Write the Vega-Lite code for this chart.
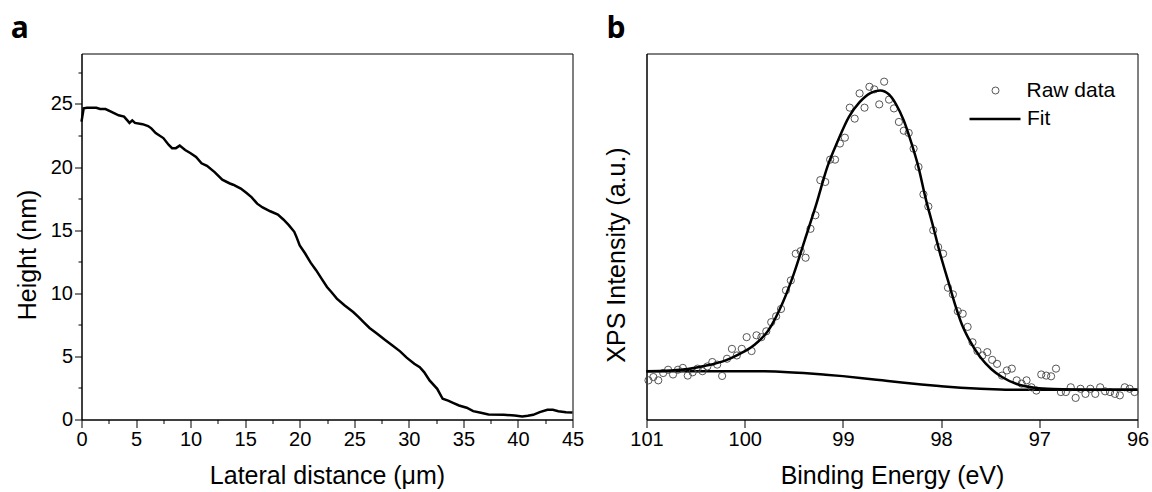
{
  "$schema": "https://vega.github.io/schema/vega-lite/v6.json",
  "background": "white",
  "padding": {"left": 9.5, "top": 12.5, "right": 0, "bottom": 0},
  "spacing": 19,
  "datasets": {
    "profile": [
      {"x": 0, "h": 23.6}, {"x": 0.2, "h": 24.66}, {"x": 0.5, "h": 24.7}, {"x": 1.36, "h": 24.7}, {"x": 1.7, "h": 24.6},
      {"x": 2.2, "h": 24.6}, {"x": 2.7, "h": 24.4}, {"x": 3.4, "h": 24.1}, {"x": 3.9, "h": 24.0}, {"x": 4.2, "h": 23.7},
      {"x": 4.4, "h": 23.5}, {"x": 4.65, "h": 23.7}, {"x": 4.9, "h": 23.5}, {"x": 5.6, "h": 23.4}, {"x": 6.1, "h": 23.25},
      {"x": 6.4, "h": 23.07}, {"x": 6.8, "h": 22.7}, {"x": 7.5, "h": 22.3}, {"x": 8.0, "h": 21.75}, {"x": 8.3, "h": 21.5},
      {"x": 8.65, "h": 21.5}, {"x": 9.0, "h": 21.7}, {"x": 9.5, "h": 21.35}, {"x": 10.0, "h": 21.1}, {"x": 10.5, "h": 20.8},
      {"x": 11.0, "h": 20.3}, {"x": 11.5, "h": 20.1}, {"x": 12.2, "h": 19.6}, {"x": 12.9, "h": 19.0}, {"x": 13.6, "h": 18.7},
      {"x": 13.9, "h": 18.6}, {"x": 14.6, "h": 18.3}, {"x": 15.1, "h": 17.96}, {"x": 15.6, "h": 17.6}, {"x": 16.1, "h": 17.1},
      {"x": 16.6, "h": 16.8}, {"x": 17.3, "h": 16.5}, {"x": 18.0, "h": 16.24}, {"x": 18.5, "h": 15.85}, {"x": 19.0, "h": 15.4},
      {"x": 19.5, "h": 14.87}, {"x": 19.7, "h": 14.47}, {"x": 20.0, "h": 13.8}, {"x": 20.5, "h": 13.15}, {"x": 21.0, "h": 12.43},
      {"x": 21.5, "h": 11.83}, {"x": 22.0, "h": 11.16}, {"x": 22.5, "h": 10.5}, {"x": 22.9, "h": 10.1}, {"x": 23.4, "h": 9.58},
      {"x": 24.1, "h": 9.05}, {"x": 24.9, "h": 8.52}, {"x": 25.4, "h": 8.12}, {"x": 25.9, "h": 7.67}, {"x": 26.4, "h": 7.25},
      {"x": 27.1, "h": 6.8}, {"x": 27.8, "h": 6.32}, {"x": 28.5, "h": 5.87}, {"x": 29.2, "h": 5.4}, {"x": 29.8, "h": 4.9},
      {"x": 30.5, "h": 4.42}, {"x": 31.0, "h": 4.15}, {"x": 31.4, "h": 3.76}, {"x": 31.9, "h": 3.1}, {"x": 32.6, "h": 2.43},
      {"x": 33.1, "h": 1.64}, {"x": 33.6, "h": 1.5}, {"x": 34.1, "h": 1.3}, {"x": 34.6, "h": 1.11}, {"x": 35.3, "h": 0.93},
      {"x": 35.9, "h": 0.66}, {"x": 36.6, "h": 0.53}, {"x": 37.3, "h": 0.4}, {"x": 38.7, "h": 0.37}, {"x": 39.7, "h": 0.32},
      {"x": 40.4, "h": 0.24}, {"x": 40.9, "h": 0.29}, {"x": 41.4, "h": 0.37}, {"x": 42.0, "h": 0.58}, {"x": 42.7, "h": 0.77},
      {"x": 43.2, "h": 0.77}, {"x": 43.7, "h": 0.66}, {"x": 44.4, "h": 0.58}, {"x": 45.0, "h": 0.56}
    ],
    "raw": [
      {"E": 100.98, "I": 10.7}, {"E": 100.93, "I": 11.6}, {"E": 100.88, "I": 10.7}, {"E": 100.83, "I": 12.7}, {"E": 100.78, "I": 13.6},
      {"E": 100.73, "I": 12.3}, {"E": 100.68, "I": 13.6}, {"E": 100.63, "I": 14.1}, {"E": 100.58, "I": 12.0}, {"E": 100.53, "I": 12.9},
      {"E": 100.48, "I": 13.9}, {"E": 100.43, "I": 13.2}, {"E": 100.38, "I": 14.5}, {"E": 100.33, "I": 15.7}, {"E": 100.28, "I": 15.0},
      {"E": 100.23, "I": 11.9}, {"E": 100.18, "I": 16.6}, {"E": 100.13, "I": 19.3}, {"E": 100.08, "I": 17.5}, {"E": 100.03, "I": 19.3},
      {"E": 99.98, "I": 22.5}, {"E": 99.93, "I": 18.7}, {"E": 99.88, "I": 23.0}, {"E": 99.83, "I": 22.5}, {"E": 99.78, "I": 24.1},
      {"E": 99.73, "I": 26.6}, {"E": 99.68, "I": 28.2}, {"E": 99.63, "I": 30.2}, {"E": 99.58, "I": 35.3}, {"E": 99.53, "I": 38.0},
      {"E": 99.48, "I": 45.3}, {"E": 99.43, "I": 46.0}, {"E": 99.38, "I": 44.2}, {"E": 99.33, "I": 52.1}, {"E": 99.28, "I": 55.8},
      {"E": 99.23, "I": 65.4}, {"E": 99.18, "I": 64.9}, {"E": 99.13, "I": 71.0}, {"E": 99.08, "I": 71.0}, {"E": 99.03, "I": 75.4},
      {"E": 98.98, "I": 77.0}, {"E": 98.93, "I": 85.2}, {"E": 98.88, "I": 82.2}, {"E": 98.83, "I": 89.1}, {"E": 98.78, "I": 85.2},
      {"E": 98.73, "I": 90.9}, {"E": 98.68, "I": 90.2}, {"E": 98.63, "I": 86.1}, {"E": 98.58, "I": 92.3}, {"E": 98.53, "I": 87.4},
      {"E": 98.48, "I": 85.0}, {"E": 98.43, "I": 81.3}, {"E": 98.38, "I": 78.9}, {"E": 98.33, "I": 78.3}, {"E": 98.28, "I": 74.0},
      {"E": 98.23, "I": 69.0}, {"E": 98.18, "I": 61.5}, {"E": 98.13, "I": 58.2}, {"E": 98.08, "I": 51.7}, {"E": 98.03, "I": 47.1},
      {"E": 97.98, "I": 45.3}, {"E": 97.93, "I": 36.0}, {"E": 97.88, "I": 34.2}, {"E": 97.83, "I": 29.6}, {"E": 97.78, "I": 28.9},
      {"E": 97.73, "I": 25.3}, {"E": 97.68, "I": 21.1}, {"E": 97.63, "I": 18.7}, {"E": 97.58, "I": 17.5}, {"E": 97.53, "I": 18.4},
      {"E": 97.48, "I": 16.3}, {"E": 97.43, "I": 15.2}, {"E": 97.38, "I": 12.0}, {"E": 97.33, "I": 13.4}, {"E": 97.28, "I": 13.9},
      {"E": 97.23, "I": 10.7}, {"E": 97.18, "I": 9.8}, {"E": 97.13, "I": 10.7}, {"E": 97.08, "I": 8.8}, {"E": 97.03, "I": 7.9},
      {"E": 96.98, "I": 12.3}, {"E": 96.93, "I": 12.0}, {"E": 96.88, "I": 11.8}, {"E": 96.83, "I": 13.9}, {"E": 96.78, "I": 7.5},
      {"E": 96.73, "I": 7.5}, {"E": 96.68, "I": 8.8}, {"E": 96.63, "I": 5.9}, {"E": 96.58, "I": 8.4}, {"E": 96.53, "I": 7.0},
      {"E": 96.48, "I": 8.4}, {"E": 96.43, "I": 7.0}, {"E": 96.38, "I": 8.8}, {"E": 96.33, "I": 7.7}, {"E": 96.28, "I": 7.5},
      {"E": 96.23, "I": 7.0}, {"E": 96.18, "I": 6.6}, {"E": 96.13, "I": 8.8}, {"E": 96.08, "I": 8.4}, {"E": 96.03, "I": 7.5}
    ],
    "fit": [
      {"E": 101.0, "I": 13.2}, {"E": 100.76, "I": 13.4}, {"E": 100.58, "I": 13.8}, {"E": 100.39, "I": 14.75}, {"E": 100.2, "I": 16.1},
      {"E": 100.06, "I": 17.8}, {"E": 99.91, "I": 20.2}, {"E": 99.76, "I": 24.3}, {"E": 99.61, "I": 32.1}, {"E": 99.5, "I": 39.8},
      {"E": 99.39, "I": 48.9}, {"E": 99.27, "I": 58.9}, {"E": 99.16, "I": 68.9}, {"E": 99.05, "I": 76.2}, {"E": 98.94, "I": 82.6},
      {"E": 98.83, "I": 86.7}, {"E": 98.72, "I": 89.2}, {"E": 98.62, "I": 89.9}, {"E": 98.53, "I": 88.8}, {"E": 98.46, "I": 86.2},
      {"E": 98.38, "I": 81.7}, {"E": 98.31, "I": 76.2}, {"E": 98.23, "I": 68.9}, {"E": 98.16, "I": 60.7}, {"E": 98.08, "I": 52.6},
      {"E": 98.01, "I": 45.3}, {"E": 97.93, "I": 38.0}, {"E": 97.86, "I": 31.6}, {"E": 97.79, "I": 26.1}, {"E": 97.71, "I": 21.6},
      {"E": 97.6, "I": 17.0}, {"E": 97.49, "I": 13.8}, {"E": 97.38, "I": 11.6}, {"E": 97.23, "I": 9.7}, {"E": 97.04, "I": 8.65},
      {"E": 96.86, "I": 8.3}, {"E": 96.48, "I": 8.1}, {"E": 96.0, "I": 8.1}
    ],
    "bg": [
      {"E": 101.0, "I": 13.2}, {"E": 100.5, "I": 13.2}, {"E": 100.0, "I": 13.2}, {"E": 99.8, "I": 13.15}, {"E": 99.6, "I": 13.0},
      {"E": 99.4, "I": 12.7}, {"E": 99.2, "I": 12.3}, {"E": 99.0, "I": 11.85}, {"E": 98.8, "I": 11.3}, {"E": 98.6, "I": 10.7},
      {"E": 98.4, "I": 10.1}, {"E": 98.2, "I": 9.55}, {"E": 98.0, "I": 9.1}, {"E": 97.8, "I": 8.7}, {"E": 97.6, "I": 8.4},
      {"E": 97.4, "I": 8.2}, {"E": 97.2, "I": 8.1}, {"E": 96.0, "I": 8.1}
    ]
  },
  "hconcat": [
    {
      "width": 491,
      "height": 366,
      "title": {"text": "a", "anchor": "start", "frame": "bounds", "font": "Open Sans", "fontSize": 30, "fontWeight": "bold", "color": "black", "offset": 10, "dx": -4.5},
      "data": {"name": "profile"},
      "mark": {"type": "line", "color": "black", "strokeWidth": 2.5},
      "encoding": {
        "x": {
          "field": "x", "type": "quantitative",
          "scale": {"domain": [0, 45], "nice": false, "zero": false},
          "axis": {
            "title": "Lateral distance (μm)",
            "values": [0, 2.5, 5, 7.5, 10, 12.5, 15, 17.5, 20, 22.5, 25, 27.5, 30, 32.5, 35, 37.5, 40, 42.5, 45],
            "labelExpr": "datum.value % 5 === 0 ? datum.label : ''",
            "tickSize": {"condition": {"test": "datum.value % 5 !== 0", "value": 4}, "value": 8},
            "labelOverlap": false, "labelFlush": false
          }
        },
        "y": {
          "field": "h", "type": "quantitative",
          "scale": {"domain": [0, 29], "nice": false, "zero": false},
          "axis": {
            "title": "Height (nm)",
            "values": [0, 2.5, 5, 7.5, 10, 12.5, 15, 17.5, 20, 22.5, 25, 27.5],
            "labelExpr": "datum.value % 5 === 0 ? datum.label : ''",
            "tickSize": {"condition": {"test": "datum.value % 5 !== 0", "value": 3.5}, "value": 7},
            "labelOverlap": false, "labelFlush": false, "titlePadding": 10, "titleY": 201
          }
        }
      }
    },
    {
      "width": 491,
      "height": 366,
      "title": {"text": "b", "anchor": "start", "frame": "bounds", "font": "Open Sans", "fontSize": 30, "fontWeight": "bold", "color": "black", "offset": 10, "dx": 2},
      "layer": [
        {
          "data": {"name": "bg"},
          "mark": {"type": "line", "color": "black", "strokeWidth": 2.5, "interpolate": "monotone"},
          "encoding": {
            "x": {"field": "E", "type": "quantitative"},
            "y": {"field": "I", "type": "quantitative"}
          }
        },
        {
          "data": {"name": "raw"},
          "mark": {"type": "point", "shape": "circle", "filled": false, "color": "#444444", "strokeWidth": 0.9, "size": 52, "opacity": 1},
          "encoding": {
            "x": {"field": "E", "type": "quantitative"},
            "y": {"field": "I", "type": "quantitative"},
            "shape": {
              "datum": "Raw data", "type": "nominal",
              "scale": {"range": ["circle"]},
              "legend": {"title": null, "orient": "none", "legendX": 903.5, "legendY": 26.5, "padding": 0, "symbolSize": 49, "symbolStrokeColor": "#444444", "symbolFillColor": "transparent", "symbolStrokeWidth": 0.9, "labelOffset": 20.5, "labelFont": "Liberation Sans", "labelFontSize": 21, "labelColor": "black"}
            }
          }
        },
        {
          "data": {"name": "fit"},
          "mark": {"type": "line", "strokeWidth": 2.5, "interpolate": "monotone"},
          "encoding": {
            "x": {"field": "E", "type": "quantitative"},
            "y": {"field": "I", "type": "quantitative"},
            "color": {
              "datum": "Fit", "type": "nominal",
              "scale": {"range": ["black"]},
              "legend": {"title": null, "orient": "none", "legendX": 886.5, "legendY": 38.5, "padding": 0, "symbolType": "stroke", "symbolSize": 2601, "symbolStrokeWidth": 2.5, "labelOffset": 5, "labelFont": "Liberation Sans", "labelFontSize": 21, "labelColor": "black"}
            }
          }
        }
      ],
      "encoding": {
        "x": {
          "field": "E", "type": "quantitative",
          "scale": {"domain": [96, 101], "reverse": true, "nice": false, "zero": false},
          "axis": {
            "title": "Binding Energy (eV)",
            "format": "d",
            "values": [96, 96.5, 97, 97.5, 98, 98.5, 99, 99.5, 100, 100.5, 101],
            "labelExpr": "datum.value % 1 === 0 ? datum.label : ''",
            "tickSize": {"condition": {"test": "datum.value % 1 !== 0", "value": 4}, "value": 8},
            "labelOverlap": false, "labelFlush": false
          }
        },
        "y": {
          "field": "I", "type": "quantitative",
          "scale": {"domain": [0, 100], "nice": false, "zero": false},
          "axis": {"title": "XPS Intensity (a.u.)", "labels": false, "ticks": false, "titlePadding": 17, "titleY": 201}
        }
      }
    }
  ],
  "config": {
    "view": {"stroke": "black", "strokeWidth": 1},
    "axis": {
      "grid": false,
      "domainColor": "black", "domainWidth": 1,
      "tickColor": "black", "tickWidth": 1,
      "labelFont": "Liberation Sans", "labelFontSize": 20, "labelColor": "black", "labelPadding": 2,
      "titleFont": "Liberation Sans", "titleFontSize": 25, "titleFontWeight": "normal", "titleColor": "black", "titlePadding": 14
    }
  }
}
